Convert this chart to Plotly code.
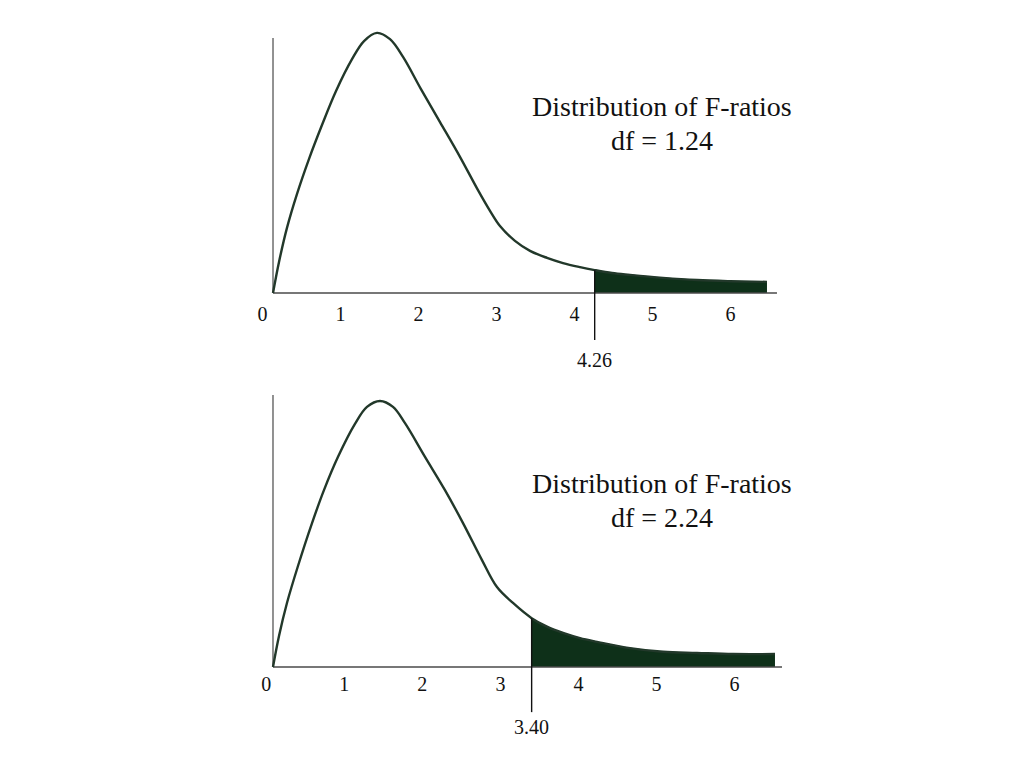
import plotly.graph_objects as go

# ---------------- data ----------------
tick_values = [0, 1, 2, 3, 4, 5, 6]
tick_labels = ["0", "1", "2", "3", "4", "5", "6"]

# Panel 1: F distribution, df = 1.24, critical value 4.26
top_title = "Distribution of F-ratios"
top_df = "df = 1.24"
top_crit = 4.26
top_F = [0.136, 0.213, 0.315, 0.444, 0.597, 0.764, 0.944, 1.149, 1.303, 1.469,
         1.636, 1.803, 2.033, 2.277, 2.533, 2.764, 2.918, 3.046, 3.238, 3.431,
         3.649, 3.854, 4.072, 4.26, 4.482, 4.713, 5.136, 5.572, 5.995, 6.469]
top_h = [0.0, 0.084, 0.176, 0.268, 0.362, 0.454, 0.546, 0.632, 0.681, 0.703,
         0.686, 0.638, 0.551, 0.462, 0.368, 0.278, 0.222, 0.181, 0.141, 0.114,
         0.095, 0.081, 0.070, 0.062, 0.054, 0.049, 0.041, 0.035, 0.032, 0.030]

# Panel 2: F distribution, df = 2.24, critical value 3.40
bot_title = "Distribution of F-ratios"
bot_df = "df = 2.24"
bot_crit = 3.40
bot_F = [0.087, 0.164, 0.266, 0.407, 0.587, 0.740, 0.920, 1.137, 1.291, 1.458,
         1.624, 1.778, 2.034, 2.290, 2.521, 2.764, 2.956, 3.161, 3.40, 3.597,
         3.802, 4.020, 4.238, 4.660, 5.083, 5.518, 5.979, 6.517]
bot_h = [0.0, 0.084, 0.173, 0.273, 0.389, 0.478, 0.568, 0.657, 0.703, 0.719,
         0.703, 0.659, 0.568, 0.478, 0.389, 0.289, 0.216, 0.173, 0.132, 0.109,
         0.092, 0.078, 0.068, 0.051, 0.041, 0.038, 0.035, 0.035]

# ---------------- styling ----------------
CURVE = "#22382a"
FILL = "#0e3019"
AXIS = "#4a4a4a"
SERIF = "Liberation Serif, Times New Roman, serif"

fig = go.Figure()


def add_panel(F, h, crit, title, df_txt, xref, yref, axis_end, yaxis_top,
              crit_low, crit_lab_y, title_x, title_y1, title_y2):
    origin = F[0]
    # shaded rejection region
    sx = [f for f in F if f >= crit]
    sy = [v for f, v in zip(F, h) if f >= crit]
    fig.add_trace(go.Scatter(x=sx, y=sy, mode="lines", fill="tozeroy",
                             fillcolor=FILL, line=dict(color=FILL, width=1, shape="spline"),
                             xaxis=xref, yaxis=yref, hoverinfo="skip", showlegend=False))
    # axis lines
    fig.add_trace(go.Scatter(x=[origin, axis_end], y=[0, 0], mode="lines",
                             line=dict(color=AXIS, width=1.6),
                             xaxis=xref, yaxis=yref, hoverinfo="skip", showlegend=False))
    fig.add_trace(go.Scatter(x=[origin, origin], y=[0, yaxis_top], mode="lines",
                             line=dict(color="#777777", width=1.6),
                             xaxis=xref, yaxis=yref, hoverinfo="skip", showlegend=False))
    # density curve
    fig.add_trace(go.Scatter(x=F, y=h, mode="lines",
                             line=dict(color=CURVE, width=2.4, shape="spline", smoothing=1.0),
                             xaxis=xref, yaxis=yref, showlegend=False))
    # critical value line
    ci = F.index(crit)
    fig.add_trace(go.Scatter(x=[crit, crit], y=[h[ci], crit_low], mode="lines",
                             line=dict(color="#111111", width=1.4),
                             xaxis=xref, yaxis=yref, hoverinfo="skip", showlegend=False))
    fig.add_annotation(x=crit, y=crit_lab_y, xref=xref, yref=yref,
                       text=f"{crit:.2f}", showarrow=False,
                       font=dict(family=SERIF, size=20, color="#111111"),
                       xanchor="center", yanchor="middle")
    fig.add_annotation(x=title_x, y=title_y1, xref=xref, yref=yref, text=title,
                       showarrow=False, font=dict(family=SERIF, size=28, color="#111111"),
                       xanchor="center", yanchor="middle")
    fig.add_annotation(x=title_x, y=title_y2, xref=xref, yref=yref, text=df_txt,
                       showarrow=False, font=dict(family=SERIF, size=28, color="#111111"),
                       xanchor="center", yanchor="middle")


add_panel(top_F, top_h, top_crit, top_title, top_df, "x", "y",
          axis_end=6.597, yaxis_top=0.689, crit_low=-0.127, crit_lab_y=-0.181,
          title_x=5.123, title_y1=0.503, title_y2=0.411)
add_panel(bot_F, bot_h, bot_crit, bot_title, bot_df, "x2", "y2",
          axis_end=6.607, yaxis_top=0.735, crit_low=-0.122, crit_lab_y=-0.162,
          title_x=5.07, title_y1=0.497, title_y2=0.405)

tickfont = dict(family=SERIF, size=20, color="#111111")
common_x = dict(showgrid=False, zeroline=False, showline=False, ticks="",
                tickvals=tick_values, ticktext=tick_labels, tickfont=tickfont,
                domain=[0, 1], fixedrange=True)
common_y = dict(showgrid=False, zeroline=False, showline=False,
                showticklabels=False, ticks="", fixedrange=True)

W, H = 1008, 752  # page body has an 8px margin inside the 1024x768 window
fig.update_layout(
    width=W, height=H, autosize=False,
    margin=dict(l=0, r=0, t=0, b=0),
    paper_bgcolor="white", plot_bgcolor="white",
    xaxis=dict(**common_x, range=[-3.2615, 9.6615], anchor="free",
               position=1 - 285 / H, ticklabelstandoff=7),
    yaxis=dict(**common_y, domain=[0.5, 1.0], range=[-0.2459, 0.7703]),
    xaxis2=dict(**common_x, range=[-3.3073, 9.6042], anchor="free",
                position=1 - 659 / H, ticklabelstandoff=3),
    yaxis2=dict(**common_y, domain=[0.0, 0.5], range=[-0.2514, 0.7649]),
)

fig.write_html("out.html")
